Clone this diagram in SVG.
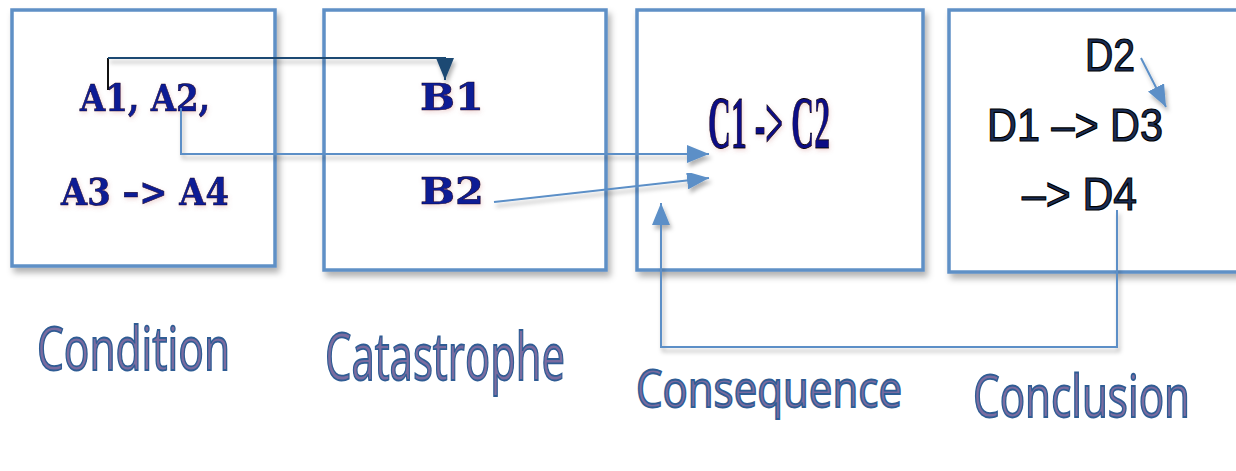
<svg xmlns="http://www.w3.org/2000/svg" width="1236" height="471" viewBox="0 0 1236 471">
<defs>
<filter id="sh" x="-10%" y="-10%" width="130%" height="130%">
<feDropShadow dx="3" dy="5" stdDeviation="3" flood-color="#000" flood-opacity="0.3"/>
</filter>
<filter id="ash" x="-20%" y="-20%" width="150%" height="160%">
<feDropShadow dx="2" dy="4" stdDeviation="2" flood-color="#000" flood-opacity="0.3"/>
</filter>
<filter id="glow" x="-10%" y="-20%" width="120%" height="150%">
<feDropShadow dx="1" dy="2" stdDeviation="2" flood-color="#c06060" flood-opacity="0.25"/>
</filter>
<marker id="ab" viewBox="0 0 22 18" refX="22" refY="9" markerWidth="22" markerHeight="18" markerUnits="userSpaceOnUse" orient="auto">
<path d="M0,0 L22,9 L0,18 Z" fill="#5b8fc7"/>
</marker>
<marker id="ad" viewBox="0 0 22 18" refX="22" refY="9" markerWidth="22" markerHeight="18" markerUnits="userSpaceOnUse" orient="auto">
<path d="M0,0 L22,9 L0,18 Z" fill="#1f4a73"/>
</marker>
</defs>
<style>
.box{fill:#fff;stroke:#5f90c6;stroke-width:3.5;filter:url(#sh)}
.ser{font-family:"DejaVu Serif","Liberation Serif",serif;font-weight:bold;fill:#0f1f95;stroke:#000033;stroke-width:0.6;filter:url(#glow)}
.cc{font-family:"Liberation Serif","DejaVu Serif",serif;font-weight:bold;fill:#0a0f85;stroke:#000;stroke-width:0.8;filter:url(#glow)}
.dd{font-family:"Liberation Sans","DejaVu Sans",sans-serif;fill:#1a2d55;stroke:#000;stroke-width:1.2}
.lab{font-family:"Open Sans","Liberation Sans",sans-serif;fill:#7a6ca0;stroke:#2f5c94;stroke-width:1.8}
.cb{fill:none;stroke:#5b8fc7;stroke-width:2;filter:url(#ash)}
</style>
<rect width="1236" height="471" fill="#fff"/>

<g id="nodeA">
<rect class="box" x="12" y="10" width="263" height="256"/>
<text class="ser" x="80" y="111" font-size="37" textLength="130" lengthAdjust="spacingAndGlyphs">A1, A2,</text>
<text class="ser" x="61" y="205" font-size="37" textLength="168" lengthAdjust="spacingAndGlyphs">A3 –&gt; A4</text>
</g>
<g id="nodeB">
<rect class="box" x="324" y="10" width="282" height="260"/>
<text class="ser" x="420" y="110" font-size="37" textLength="64" lengthAdjust="spacingAndGlyphs">B1</text>
<text class="ser" x="420" y="204" font-size="37" textLength="64" lengthAdjust="spacingAndGlyphs">B2</text>
</g>
<g id="nodeC">
<rect class="box" x="637" y="10" width="286" height="260"/>
<text class="cc" x="708" y="148" font-size="73" textLength="122" lengthAdjust="spacingAndGlyphs">C1 -&gt; C2</text>
</g>
<g id="nodeD">
<rect class="box" x="949" y="10" width="300" height="262"/>
<text class="dd" x="1085" y="71" font-size="46" textLength="50" lengthAdjust="spacingAndGlyphs">D2</text>
<text class="dd" x="987" y="141" font-size="46" textLength="176" lengthAdjust="spacingAndGlyphs">D1 –&gt; D3</text>
<text class="dd" x="1022" y="210" font-size="46" textLength="115" lengthAdjust="spacingAndGlyphs">–&gt; D4</text>
</g>

<g id="labels">
<text class="lab" x="37" y="370" font-size="60" textLength="193" lengthAdjust="spacingAndGlyphs">Condition</text>
<text class="lab" x="325" y="380" font-size="66" textLength="240" lengthAdjust="spacingAndGlyphs">Catastrophe</text>
<text class="lab" x="636" y="407" font-size="52" textLength="266" lengthAdjust="spacingAndGlyphs">Consequence</text>
<text class="lab" x="973" y="417" font-size="58" textLength="217" lengthAdjust="spacingAndGlyphs">Conclusion</text>
</g>

<g id="connectors">
<path d="M108,90 V58" fill="none" stroke="#111" stroke-width="2"/>
<path d="M108,58 H445 V80" fill="none" stroke="#1f4a73" stroke-width="2" marker-end="url(#ad)" filter="url(#ash)"/>
<path class="cb" d="M181,108 V154 H709" marker-end="url(#ab)"/>
<path class="cb" d="M229,202 H420" marker-end="url(#ab)"/>
<path class="cb" d="M494,202 L709,178" marker-end="url(#ab)"/>
<path class="cb" d="M1117,210 V347 H661 V203" marker-end="url(#ab)"/>
<path class="cb" d="M853,130 H973" marker-end="url(#ab)"/>
<path class="cb" d="M1141,58 L1166,107" marker-end="url(#ab)"/>
</g>
</svg>
